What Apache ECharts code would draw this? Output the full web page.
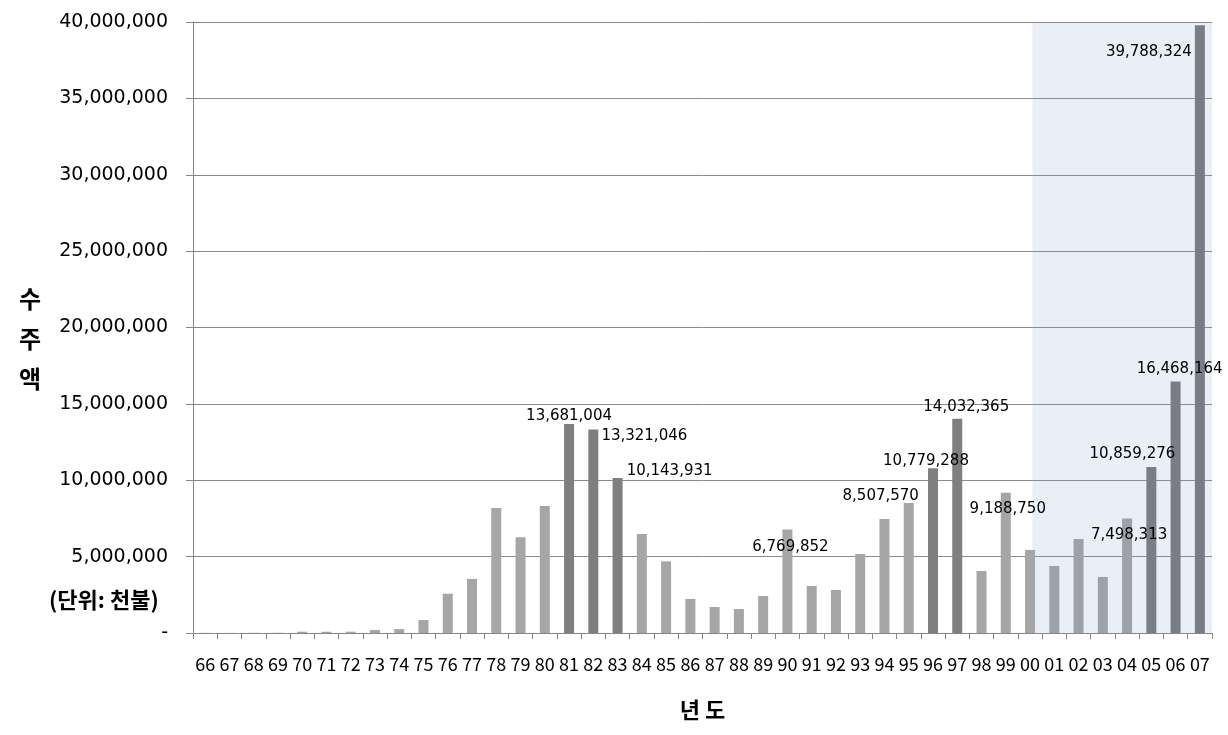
<!DOCTYPE html>
<html>
<head>
<meta charset="utf-8">
<script src="https://cdn.jsdelivr.net/npm/echarts@6/dist/echarts.min.js"></script>
<style>
html,body{margin:0;padding:0;background:#fff;}
#chart{width:1228px;height:735px;}
</style>
</head>
<body>
<div id="chart"></div>
<script>
// ---- data ----
const years = ['66','67','68','69','70','71','72','73','74','75','76','77','78','79','80','81','82','83','84','85','86','87','88','89','90','91','92','93','94','95','96','97','98','99','00','01','02','03','04','05','06','07'];
const amounts = [10000,8000,12000,15000,85000,80000,85000,200000,260000,850000,2570000,3540000,8190000,6270000,8320000,13681004,13321046,10143931,6480000,4690000,2230000,1700000,1570000,2420000,6769852,3080000,2820000,5170000,7470000,8507570,10779288,14032365,4060000,9188750,5440000,4390000,6160000,3670000,7498313,10859276,16468164,39788324];
const yTicks = [0,5000000,10000000,15000000,20000000,25000000,30000000,35000000,40000000];
const labeledYears = ['81','82','83','90','95','96','97','99','04','05','06','07'];
const darkYears = ['81','82','83','96','97','05','06','07'];
const shadedYears = ['01','02','03','04','05','06','07'];

// ---- styles / placements (kept apart from data) ----
const labelOffsets = {
  '81':[0,1], '82':[51,16], '83':[52,2], '90':[3,27], '95':[-28,2], '96':[-7,2],
  '97':[9,-3], '99':[2,25], '04':[2,26], '05':[-19,-4], '06':[4,-3], '07':[-51,36]
};
const COLORS = {light:'#a6a6a6', dark:'#7f7f7f', shadeLight:'#9ea1a9', shadeDark:'#7a7d85'};

function barColor(y){
  const dark = darkYears.includes(y), sh = shadedYears.includes(y);
  if (sh) return dark ? COLORS.shadeDark : COLORS.shadeLight;
  return dark ? COLORS.dark : COLORS.light;
}
const fmt = v => v.toLocaleString('en-US');

const barData = years.map((y,i) => {
  const item = {value: amounts[i], itemStyle:{color: barColor(y)}};
  if (labeledYears.includes(y)) {
    item.label = {show:true, position:'top', distance:0, offset: labelOffsets[y] || [0,0]};
  }
  return item;
});

const chart = echarts.init(document.getElementById('chart'), null, {renderer:'canvas'});
const axisGrey = '#868686';
chart.setOption({
  animation:false,
  backgroundColor:'#ffffff',
  title:[
    {text:'수\n주\n액', left:14, top:274,
     textStyle:{fontFamily:'Noto Sans CJK KR', fontWeight:'bold', fontSize:24, lineHeight:40, color:'#000'}},
    {text:'(단위: 천불)', left:44, top:584,
     textStyle:{fontFamily:'Noto Sans CJK KR', fontWeight:'bold', fontSize:22, color:'#000'}}
  ],
  grid:{left:193, right:16, top:22, bottom:102, containLabel:false},
  xAxis:[
    {type:'category', data:years, boundaryGap:true,
     name:'년 도', nameLocation:'middle', nameGap:66,
     nameTextStyle:{fontFamily:'Noto Sans CJK KR', fontWeight:'bold', fontSize:22, color:'#000'},
     axisLine:{show:true, lineStyle:{color:axisGrey, width:1}},
     axisTick:{show:true, alignWithLabel:false, length:6, lineStyle:{color:axisGrey}},
     axisLabel:{interval:0, margin:22, fontFamily:'Noto Sans CJK KR', fontSize:18, color:'#000'},
     splitLine:{show:false}, z:2},
    {type:'value', min:0, max:years.length, show:false}
  ],
  yAxis:[
    {type:'value', min:0, max:40000000, interval:5000000,
     axisLine:{show:true, lineStyle:{color:axisGrey}},
     axisTick:{show:true, length:7, lineStyle:{color:axisGrey}},
     axisLabel:{margin:25, fontFamily:'DejaVu Sans', fontSize:19, color:'#000',
       formatter: v => v === 0 ? '-' : fmt(v)},
     splitLine:{show:true, lineStyle:{color:'#8c8c8c', width:1}}, z:2},
    {type:'value', min:0, max:40000000, interval:5000000, position:'left',
     axisLine:{show:false}, axisLabel:{show:false}, splitLine:{show:false},
     axisTick:{show:true, inside:true, length:7, lineStyle:{color:axisGrey}}, z:2}
  ],
  series:[
    {type:'line', xAxisIndex:1, yAxisIndex:0, data:[], z:1, silent:true,
     markArea:{silent:true, itemStyle:{color:'#eaeff7'},
       data:[[{xAxis:34.6, yAxis:0},{xAxis:years.length, yAxis:40000000}]]}},
    {type:'bar', xAxisIndex:0, yAxisIndex:0, data:barData, barWidth:10, z:3,
     label:{show:false, fontFamily:'DejaVu Sans', fontSize:15, lineHeight:18, color:'#000',
       formatter: p => fmt(p.value)}}
  ]
});
</script>
</body>
</html>
